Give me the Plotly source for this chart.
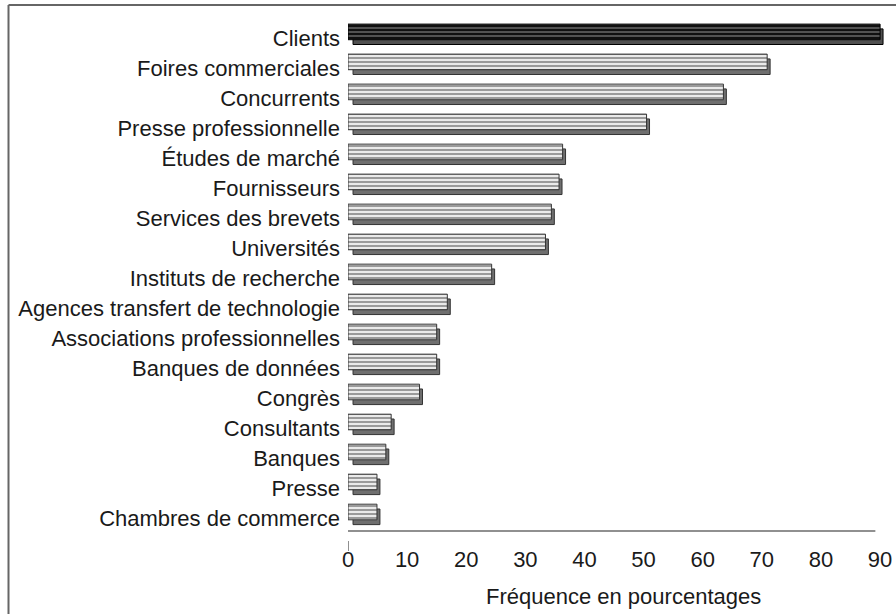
import plotly.graph_objects as go

categories = [
    "Clients", "Foires commerciales", "Concurrents", "Presse professionnelle",
    "Études de marché", "Fournisseurs", "Services des brevets", "Universités",
    "Instituts de recherche", "Agences transfert de technologie",
    "Associations professionnelles", "Banques de données", "Congrès",
    "Consultants", "Banques", "Presse", "Chambres de commerce",
]
values = [90.0, 70.9, 63.5, 50.5, 36.3, 35.7, 34.4, 33.4, 24.3, 16.8,
          15.0, 15.0, 12.1, 7.3, 6.4, 4.9, 4.9]
x_ticks = [0, 10, 20, 30, 40, 50, 60, 70, 80, 90]

n = len(categories)
pos = [n - 1 - i for i in range(n)]  # top to bottom

# pixel geometry helpers (layout only)
L, R, T, B = 348, 10, 10, 83
W, H = 896, 614
pw, ph = W - L - R, H - T - B
xr = [0, 91]
yr = [-0.433, 16.93]

def px_x(p):
    return (p - L) / pw

def px_y(p):
    return (H - B - p) / ph

FRONT_DY, BACK_DY = 0.2, 0.04
BAR_W = 0.52
BACK_X0, BACK_EXT = 0.85, 0.5
FONT = "Liberation Sans"
FS = 22

fig = go.Figure()

def add_group(idx, front_bg, front_fg, front_sol, back_col, line_col):
    ys = [pos[i] for i in idx]
    vs = [values[i] for i in idx]
    fig.add_trace(go.Bar(
        y=[y + BACK_DY for y in ys], x=[v + BACK_EXT - BACK_X0 for v in vs],
        base=BACK_X0, orientation="h", width=BAR_W,
        marker=dict(color=back_col, line=dict(color=line_col, width=1)),
        showlegend=False, hoverinfo="skip"))
    fig.add_trace(go.Bar(
        y=[y + FRONT_DY for y in ys], x=vs, orientation="h", width=BAR_W,
        marker=dict(color=front_bg, line=dict(color=line_col, width=1),
                    pattern=dict(shape="-", size=4, solidity=front_sol,
                                 fgcolor=front_fg, bgcolor=front_bg,
                                 fillmode="replace")),
        showlegend=False, name=""))

add_group(list(range(1, n)), "#9a9a9a", "#f4f4f4", 0.45, "#6f6f6f", "#333333")
add_group([0], "#111111", "#b8b8b8", 0.2, "#505050", "#000000")

# baseline and single tick at 0
fig.add_shape(type="line", xref="x", yref="paper", x0=0, x1=89.2, y0=0, y1=0,
              line=dict(color="#222222", width=1.2))
fig.add_shape(type="line", xref="x", yref="paper", x0=0, x1=0,
              y0=px_y(541), y1=px_y(551), line=dict(color="#222222", width=1))
# outer frame (top and left)
fig.add_shape(type="line", xref="paper", yref="paper",
              x0=px_x(8.5), x1=px_x(905), y0=px_y(5), y1=px_y(5),
              line=dict(color="#666666", width=2))
fig.add_shape(type="line", xref="paper", yref="paper",
              x0=px_x(8.5), x1=px_x(8.5), y0=px_y(5), y1=px_y(620),
              line=dict(color="#666666", width=2))

fig.add_annotation(text="Fréquence en pourcentages", xref="paper", yref="paper",
                   x=px_x(623.5), y=px_y(596), showarrow=False,
                   xanchor="center", yanchor="middle",
                   font=dict(size=FS, color="#1a1a1a", family=FONT))

fig.update_layout(
    template="none",
    width=W, height=H, barmode="overlay",
    margin=dict(l=L, r=R, t=T, b=B, pad=0),
    paper_bgcolor="white", plot_bgcolor="white",
    font=dict(family=FONT, size=FS, color="#1a1a1a"),
    xaxis=dict(range=xr, tickvals=x_ticks, ticktext=[str(t) for t in x_ticks],
               showgrid=False, zeroline=False, showline=False, ticks="",
               automargin=False, ticklabelstandoff=13, tickfont=dict(size=FS)),
    yaxis=dict(range=yr, tickvals=pos, ticktext=categories, showgrid=False,
               zeroline=False, showline=False, ticks="", ticklabelstandoff=7,
               automargin=False, tickfont=dict(size=FS)),
)

fig.write_html("out.html", config={"displayModeBar": False},
               post_script="document.body.style.margin='0';document.body.style.overflow='hidden';")
